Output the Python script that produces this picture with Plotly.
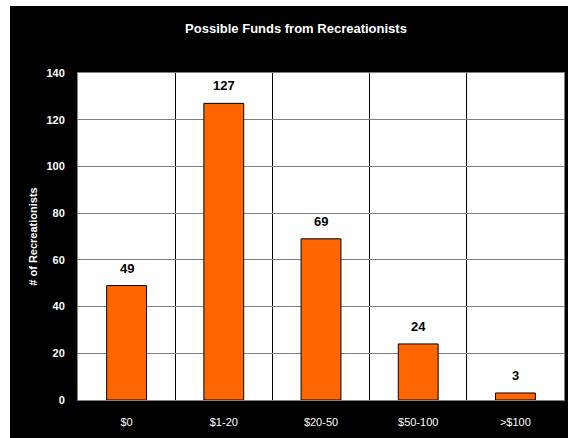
import plotly.graph_objects as go

# Survey responses: how much recreationists would contribute
categories = ["$0", "$1-20", "$20-50", "$50-100", ">$100"]
counts = [49, 127, 69, 24, 3]
y_ticks = [0, 20, 40, 60, 80, 100, 120, 140]

W, H = 568, 438
ML, MR, MT, MB = 78, 4, 73, 38
plot_w = W - ML - MR
plot_h = H - MT - MB

def px_to_paper_x(px):
    return (px - ML) / plot_w

def px_to_paper_y(py):
    return (H - MB - py) / plot_h

font = "Liberation Sans, Arial, sans-serif"

fig = go.Figure()
fig.add_trace(go.Bar(
    x=categories,
    y=counts,
    width=0.41,
    marker=dict(color="#FF6600", line=dict(color="#000000", width=1)),
    hoverinfo="x+y",
))

# value labels above each bar
for c, v in zip(categories, counts):
    fig.add_annotation(
        x=c, y=v, text=f"<b>{v}</b>", showarrow=False,
        yanchor="bottom", yshift=8,
        font=dict(family=font, size=13, color="#000000"),
    )

# black chart frame with a white plotting area on top of it
fig.add_shape(
    type="rect", xref="paper", yref="paper", layer="below",
    x0=px_to_paper_x(10), x1=px_to_paper_x(W + 2),
    y0=px_to_paper_y(H + 2), y1=px_to_paper_y(6),
    fillcolor="#000000", line=dict(width=0),
)
fig.add_shape(
    type="rect", xref="paper", yref="paper", layer="below",
    x0=0, x1=1, y0=0, y1=1,
    fillcolor="#FFFFFF", line=dict(width=0),
)

fig.update_layout(
    width=W, height=H,
    margin=dict(l=ML, r=MR, t=MT, b=MB, pad=0),
    paper_bgcolor="#FFFFFF",
    plot_bgcolor="#FFFFFF",
    showlegend=False,
    title=dict(
        text="<b>Possible Funds from Recreationists</b>",
        x=px_to_paper_x(296), xref="paper", xanchor="center",
        y=1 - 28 / H, yref="container", yanchor="middle",
        font=dict(family=font, size=13, color="#FFFFFF"),
    ),
    xaxis=dict(
        type="category",
        tickson="boundaries",
        showgrid=True, gridcolor="#000000", gridwidth=1,
        ticks="", ticklen=0,
        showline=True, linecolor="#808080", linewidth=1, mirror=True,
        tickfont=dict(family=font, size=11, color="#FFFFFF"),
        ticklabelstandoff=12,
        range=[-0.5, 4.5],
    ),
    yaxis=dict(
        range=[0, 140],
        tickvals=y_ticks,
        ticktext=[f"<b>{t}</b>" for t in y_ticks],
        showgrid=True, gridcolor="#808080", gridwidth=1,
        zeroline=False,
        ticks="", ticklen=0,
        showline=True, linecolor="#808080", linewidth=1, mirror=True,
        tickfont=dict(family=font, size=11, color="#FFFFFF"),
        ticklabelstandoff=10,
        title=dict(
            text="<b># of Recreationists</b>",
            font=dict(family=font, size=11, color="#FFFFFF"),
            standoff=6,
        ),
    ),
)

fig.write_html("out.html")
